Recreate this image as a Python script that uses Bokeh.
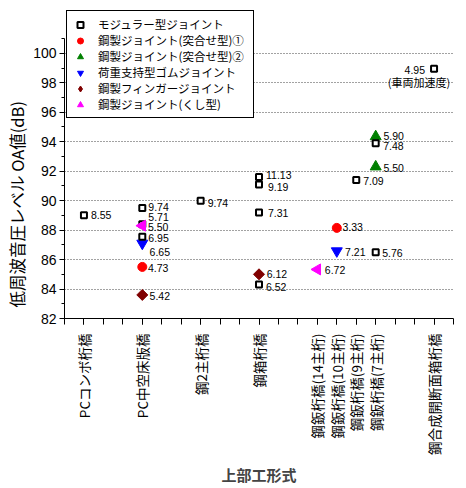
import math

from bokeh.plotting import figure
from bokeh.models import (ColumnDataSource, FixedTicker, Legend, LegendItem,
                          Title, Range1d)
from bokeh.embed import file_html
from bokeh.resources import INLINE
from bokeh.core.properties import value

# ---- data -------------------------------------------------------------
categories = ["PCコンボ桁橋", "PC中空床版橋", "鋼2主桁橋", "鋼箱桁橋",
              "鋼鈑桁橋(14主桁)", "鋼鈑桁橋(10主桁)", "鋼鈑桁橋(9主桁)",
              "鋼鈑桁橋(7主桁)", "鋼合成開断面箱桁橋"]
category_pos = [1, 4, 7, 10, 13, 14, 15, 16, 19]

y_ticks = [82, 84, 86, 88, 90, 92, 94, 96, 98, 100]

# モジュラー型ジョイント
modular_cat = [0, 1, 1, 1, 2, 3, 3, 3, 3, 6, 7, 7]
modular_db = [89.0, 89.5, 88.4, 87.55, 90.0, 91.6, 91.1, 89.2, 84.3, 91.4, 93.9, 86.5]
modular_txt = ["8.55", "9.74", "5.71", "6.95", "9.74", "11.13", "9.19", "7.31",
               "6.52", "7.09", "7.48", "5.76"]
# vehicle-acceleration reference point
accel_cat = [8]
accel_db = [98.95]
accel_txt = ["4.95"]
accel_note = ["(車両加速度)"]

# 鋼製ジョイント(突合せ型)①
butt1_cat = [1, 5]
butt1_db = [85.5, 88.15]
butt1_txt = ["4.73", "3.33"]

# 鋼製ジョイント(突合せ型)②
butt2_cat = [7, 7]
butt2_db = [94.35, 92.3]
butt2_txt = ["5.90", "5.50"]

# 荷重支持型ゴムジョイント
rubber_cat = [1, 5]
rubber_db = [87.1, 86.58]
rubber_txt = ["6.65", "7.21"]

# 鋼製フィンガージョイント
finger_cat = [1, 3]
finger_db = [83.6, 85.0]
finger_txt = ["5.42", "6.12"]

# 鋼製ジョイント(くし型)
comb_cat = [1, 4]
comb_db = [88.3, 85.33]
comb_txt = ["5.50", "6.72"]

# ---- label placement (screen px) --------------------------------------
modular_dx = [7, 6, 6, 6, 7, 7, 9, 9, 7, 7, 7.5, 6.5]
modular_dy = [0, -1, -7, 1.5, 2, -2, 3, 0.5, 2, 0.5, 3, 1]
butt1_dx, butt1_dy = [5.7, 5.7], [1.5, -0.5]
butt2_dx, butt2_dy = [7.7, 7.7], [-1, 1]
rubber_dx, rubber_dy = [7.3, 8.3], [9, 1]
finger_dx, finger_dy = [7.3, 7.7], [1.5, 0]
comb_dx, comb_dy = [5.7, 7.5], [1.5, 1]

NUM_FONT = "Liberation Sans"
JP_FONT = "Noto Sans CJK JP"

# axis drawn from 82 to 101 dB; the frame reaches higher to hold the legend
Y_AXIS_MIN, Y_AXIS_MAX, Y_FRAME_MAX = 82, 101, 103.04


def src(cat, db, txt, dx, dy):
    return ColumnDataSource(dict(
        x=[category_pos[c] for c in cat], y=db, t=txt, dx=dx, dy=dy))


p = figure(width=466, height=488, output_backend="svg", toolbar_location=None,
           x_range=Range1d(0, 20), y_range=Range1d(Y_AXIS_MIN, Y_FRAME_MAX),
           min_border_left=63, min_border_right=13, min_border_top=8,
           min_border_bottom=170)
p.outline_line_color = None
p.background_fill_color = "white"
p.border_fill_color = "white"

# grid
p.xgrid.visible = False
p.ygrid.ticker = FixedTicker(ticks=y_ticks[1:])
p.ygrid.grid_line_color = "#444444"
p.ygrid.grid_line_dash = "1 2"
p.ygrid.grid_line_width = 1

# y axis
ya = p.yaxis[0]
ya.bounds = (Y_AXIS_MIN, Y_AXIS_MAX)
ya.ticker = FixedTicker(ticks=y_ticks, minor_ticks=list(range(82, 102)))
ya.major_tick_in = 0
ya.major_tick_out = 5
ya.minor_tick_in = 0
ya.minor_tick_out = 3
ya.major_label_standoff = 3
ya.major_label_text_font = NUM_FONT
ya.major_label_text_font_size = "14px"
ya.major_label_text_color = "black"
ya.axis_line_color = "black"
ya.major_tick_line_color = "black"
ya.minor_tick_line_color = "black"

# x axis
xa = p.xaxis[0]
xa.ticker = FixedTicker(ticks=category_pos, minor_ticks=list(range(0, 21)))
xa.major_label_overrides = {pos: name for pos, name in zip(category_pos, categories)}
xa.major_label_orientation = math.pi / 2
xa.major_tick_in = 0
xa.major_tick_out = 6
xa.minor_tick_in = 0
xa.minor_tick_out = 6
xa.major_label_standoff = 9
xa.major_label_text_font = JP_FONT
xa.major_label_text_font_size = "13.5px"
xa.major_label_text_color = "black"
xa.axis_label = "上部工形式"
xa.axis_label_text_font = JP_FONT
xa.axis_label_text_font_size = "15px"
xa.axis_label_text_font_style = "bold"
xa.axis_label_standoff = 6
xa.axis_line_color = "black"
xa.major_tick_line_color = "black"
xa.minor_tick_line_color = "black"

# markers (drawing order keeps the square markers above green/blue)
s_butt2 = src(butt2_cat, butt2_db, butt2_txt, butt2_dx, butt2_dy)
r_butt2 = p.scatter("x", "y", source=s_butt2, marker="triangle", size=11,
                    fill_color="#008000", line_color="#008000")
s_rubber = src(rubber_cat, rubber_db, rubber_txt, rubber_dx, rubber_dy)
r_rubber = p.scatter("x", "y", source=s_rubber, marker="inverted_triangle", size=11,
                     fill_color="#0000FF", line_color="#0000FF")
s_butt1 = src(butt1_cat, butt1_db, butt1_txt, butt1_dx, butt1_dy)
r_butt1 = p.scatter("x", "y", source=s_butt1, marker="circle", size=9,
                    fill_color="#FF0000", line_color="#FF0000")
s_finger = src(finger_cat, finger_db, finger_txt, finger_dx, finger_dy)
p.scatter("x", "y", source=s_finger, marker="square", size=7.8,
          angle=math.pi / 4, fill_color="#800000", line_color="#800000")
s_mod = src(modular_cat, modular_db, modular_txt, modular_dx, modular_dy)
r_mod = p.scatter("x", "y", source=s_mod, marker="square", size=6,
                  fill_color="white", line_color="black", line_width=2)
s_acc = ColumnDataSource(dict(x=[category_pos[c] for c in accel_cat], y=accel_db,
                              t=accel_txt, n=accel_note))
p.scatter("x", "y", source=s_acc, marker="square", size=6,
          fill_color="white", line_color="black", line_width=2)
s_comb = src(comb_cat, comb_db, comb_txt, comb_dx, comb_dy)
r_comb = p.scatter("x", "y", source=s_comb, marker="triangle", size=11,
                   angle=math.pi / 2, fill_color="#FF00FF", line_color="#FF00FF")

# legend swatch for the finger joints (the legend ignores marker rotation)
r_finger_key = p.scatter(x=[float("nan")], y=[float("nan")], marker="diamond",
                         size=10, fill_color="#800000", line_color="#800000")

# value annotations
for s in (s_mod, s_butt1, s_butt2, s_rubber, s_finger, s_comb):
    p.text("x", "y", text="t", source=s, x_offset="dx", y_offset="dy",
           text_font=value(NUM_FONT), text_font_size="10.5px",
           text_baseline="middle", text_align="left", text_color="black")
p.text("x", "y", text="t", source=s_acc, x_offset=-9, y_offset=1,
       text_font=value(NUM_FONT), text_font_size="10.5px",
       text_baseline="middle", text_align="right", text_color="black")
p.text("x", "y", text="n", source=s_acc, x_offset=-15, y_offset=13.5,
       text_font=value(JP_FONT), text_font_size="11px",
       text_baseline="middle", text_align="center", text_color="black")

# y axis title, set on its own side panel so it can sit below centre
p.add_layout(Title(text="低周波音圧レベル OA値(dB)", align="left", offset=11,
                   text_font=JP_FONT, text_font_size="16.5px",
                   text_font_style="normal", text_color="black",
                   standoff=4), "left")

legend = Legend(items=[
    LegendItem(label="モジュラー型ジョイント", renderers=[r_mod]),
    LegendItem(label="鋼製ジョイント(突合せ型)①", renderers=[r_butt1]),
    LegendItem(label="鋼製ジョイント(突合せ型)②", renderers=[r_butt2]),
    LegendItem(label="荷重支持型ゴムジョイント", renderers=[r_rubber]),
    LegendItem(label="鋼製フィンガージョイント", renderers=[r_finger_key]),
    LegendItem(label="鋼製ジョイント(くし型)", renderers=[r_comb]),
], location="top_left")
legend.border_line_color = "black"
legend.border_line_alpha = 1
legend.border_line_width = 1
legend.background_fill_color = "white"
legend.background_fill_alpha = 1
legend.label_text_font = JP_FONT
legend.label_text_font_size = "11.5px"
legend.label_text_color = "black"
legend.glyph_width = 16
legend.glyph_height = 15
legend.label_height = 15
legend.label_width = 150
legend.label_standoff = 10
legend.spacing = 0
legend.padding = 5
legend.margin = 2
p.add_layout(legend)

open("out.html", "w").write(file_html(p, INLINE))
